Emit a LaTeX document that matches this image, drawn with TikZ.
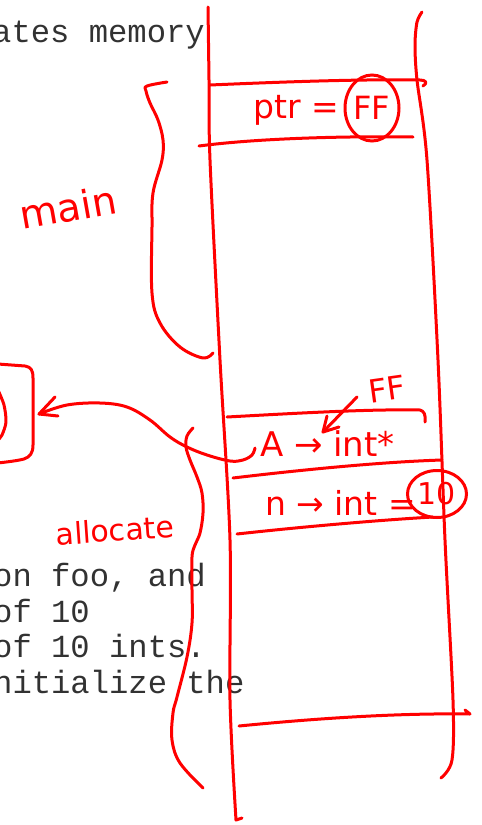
\documentclass[tikz,border=0pt]{standalone}
\usepackage{fontspec}
\setmainfont{DejaVu Sans}
\newfontfamily\codefont{Liberation Mono}
\newfontfamily\handfont{DejaVu Sans}
\usetikzlibrary{shapes.geometric}
\definecolor{inkred}{RGB}{255,0,0}
\definecolor{codegray}{RGB}{50,50,50}
\newcommand{\hsz}[1]{\handfont\fontsize{#1}{#1}\selectfont}
\begin{document}
\begin{tikzpicture}[x=1pt,y=-1pt,
  pen/.style={draw=inkred, line width=3pt, line cap=round, line join=round},
  hand/.style={text=inkred, inner sep=0pt},
  circled/.style={ellipse, draw=inkred, line width=3pt, inner sep=0pt},
  code/.style={text=codegray, font=\codefont\fontsize{32.2}{36}\selectfont, anchor=base west, inner sep=0pt}]
\useasboundingbox (0,0) rectangle (482,825);
\clip (0,0) rectangle (482,825);

% code text
\node[code] (t1) at (-8,42) {ates memory};
\node[code] (t2) at (-7,586) {on foo, and};
\node[code] (t3) at (-7,622) {of 10};
\node[code] (t4) at (-7,657) {of 10 ints.};
\node[code] (t5) at (-7,693) {nitialize the};

% stack walls
\draw[pen] plot[smooth, tension=0.5] coordinates {(208,7) (209,80) (210,160) (220,360) (230,540) (230,700) (236,820)} -- (242,818);
\draw[pen] plot[smooth, tension=0.5] coordinates {(422,12) (417,22) (415,45) (417,80) (427,160) (438,360) (445,540) (453,700) (452,760) (441,778)};

% ptr cell
\draw[pen] (210,85) .. controls (280,82) and (360,79) .. (420,80) .. controls (426,80) and (428,83) .. (423,86);
\draw[pen] (199,146) .. controls (260,138) and (350,136) .. (413,137);
\node[hand, anchor=base west, font=\hsz{33}] (ptr) at (253,118) {ptr =};
\node[hand, circled, minimum width=54pt, minimum height=66pt, font=\hsz{32}] (ffc) at (372,108) {FF};

% A cell
\draw[pen] (227,417) .. controls (300,413) and (370,409) .. (420,410) .. controls (424,411) and (426,415) .. (425,422);
\draw[pen] (233,478) .. controls (300,470) and (380,462) .. (442,460);
\draw[pen] (237,534) .. controls (300,527) and (380,520) .. (433,517);
\node[hand, anchor=base west, font=\hsz{34}] (acell) at (260,456) {A → int*};
\node[hand, rotate=8, font=\hsz{32}] (fflab) at (387,389) {FF};
\coordinate (ffs) at (357,397);
\coordinate (fft) at (323,432);
\draw[pen] (ffs) -- (fft);
\draw[pen] (327,416) -- (fft) -- (339,427);

% n cell
\node[hand, anchor=base west, font=\hsz{33}] (ncell) at (265,515) {n → int =};
\node[hand, circled, minimum width=59pt, minimum height=47pt, font=\hsz{30}] (ten) at (437,494) {10};

% bottom line
\draw[pen] (239,726) .. controls (320,718) and (400,713) .. (470,714) -- (465,710);

% braces
\draw[pen] plot[smooth, tension=0.6] coordinates {(167,82) (147,86) (146,91) (150,103) (158,120) (163,140) (162,160) (153,193) (152,227) (152,293) (160,323) (180,347) (203,358) (213,353)};
\draw[pen] plot[smooth, tension=0.6] coordinates {(193,428) (187,436) (186,447) (190,460) (197,477) (202,493) (203,513) (200,533) (195,545) (192,557) (192,590) (192,623) (187,657) (177,697) (173,713) (172,740) (180,763) (203,788)};

% labels
\node[hand, rotate=10, font=\hsz{39}] (main) at (68,207) {main};
\node[hand, rotate=4, font=\hsz{30}] (alloc) at (115,530) {allocate};

% left box
\draw[pen] (-2,364) -- (25,366) .. controls (31,367) and (33,370) .. (33,378) -- (33,445) .. controls (33,453) and (30,457) .. (24,459) .. controls (16,461) and (6,462) .. (-2,463);
\draw[pen] plot[smooth] coordinates {(-2,390) (4,405) (6,422) (2,435) (-2,440)};

% connector
\coordinate (ahook) at (255,448);
\coordinate (boxtip) at (39,414);
\draw[pen] plot[smooth, tension=0.6] coordinates {(ahook) (252,455) (243,460) (230,461) (207,455) (187,447) (170,437) (150,420) (127,407) (100,403) (67,405) (boxtip)};
\draw[pen] (55,397) -- (boxtip) -- (58,416);
\end{tikzpicture}
\end{document}
